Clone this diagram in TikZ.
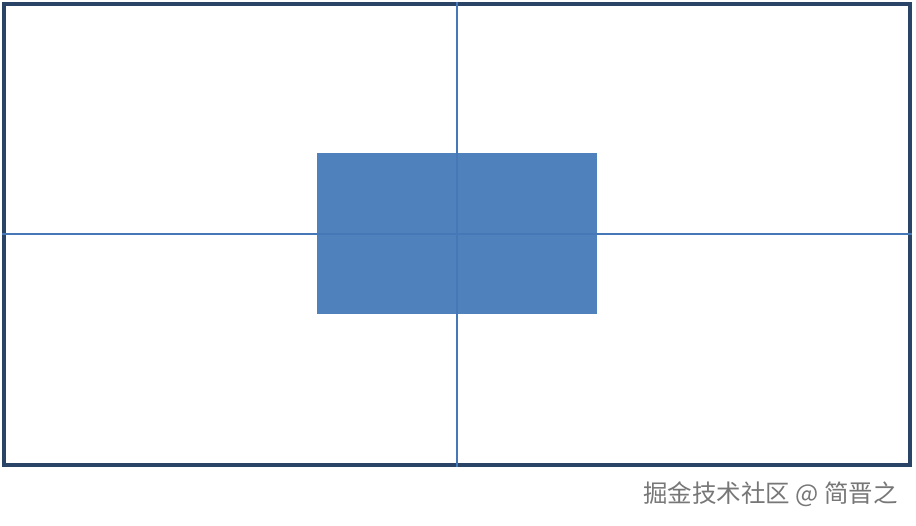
\documentclass[tikz,border=0pt]{standalone}
\usepackage{xcolor}
\usepackage{fontspec}
\newfontfamily\cjk{Noto Sans CJK SC}
\usetikzlibrary{positioning,calc}
\definecolor{framenavy}{HTML}{2A4468}
\definecolor{boxblue}{HTML}{4F81BD}
\definecolor{axisblue}{HTML}{4677B6}
\definecolor{markgray}{HTML}{777777}
\begin{document}
\begin{tikzpicture}[x=1pt,y=-1pt]
    \useasboundingbox (0,0) rectangle (916,526);
    \node (frame) [rectangle, draw=framenavy, line width=3.5pt, minimum width=906pt, minimum height=461pt, inner sep=0pt] at (457,234.5) {};
    \node (box) [rectangle, fill=boxblue, minimum width=280pt, minimum height=161pt, inner sep=0pt] at (457,234) {};
    
    \draw [axisblue, line width=2pt] (frame.north -| box.center) -- (frame.south -| box.center);
    \draw [axisblue, line width=2pt] (frame.west |- box.center) -- (frame.east |- box.center);
    \node (mark) [text=markgray, font=\cjk\fontsize{24.5}{24.5}\selectfont, anchor=east, inner sep=0pt] at (898,494) {掘金技术社区 @ 简晋之};
\end{tikzpicture}
\end{document}
